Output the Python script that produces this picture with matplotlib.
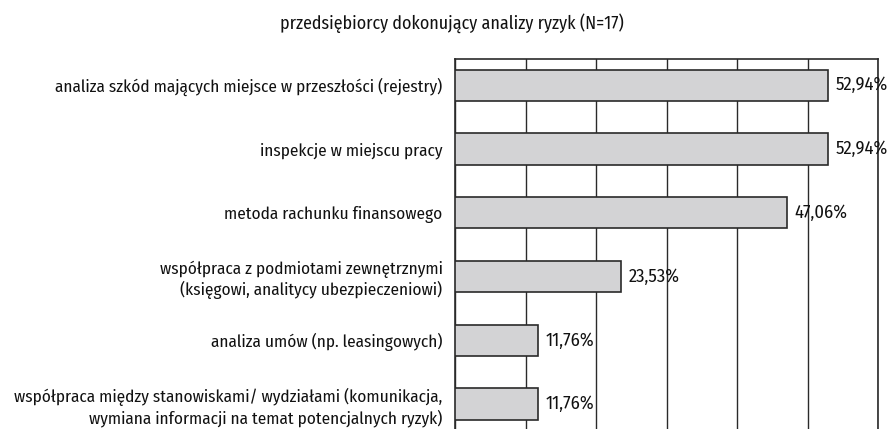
import matplotlib
matplotlib.use("Agg")
import matplotlib.pyplot as plt

categories = [
    "analiza szkód mających miejsce w przeszłości (rejestry)",
    "inspekcje w miejscu pracy",
    "metoda rachunku finansowego",
    "współpraca z podmiotami zewnętrznymi\n(księgowi, analitycy ubezpieczeniowi)",
    "analiza umów (np. leasingowych)",
    "współpraca między stanowiskami/ wydziałami (komunikacja,\nwymiana informacji na temat potencjalnych ryzyk)",
]
values = [52.94, 52.94, 47.06, 23.53, 11.76, 11.76]
labels = ["52,94%", "52,94%", "47,06%", "23,53%", "11,76%", "11,76%"]
title = "przedsiębiorcy dokonujący analizy ryzyk (N=17)"

plt.rcParams['font.family'] = ['Fira Sans Condensed', 'DejaVu Sans']

fig = plt.figure(figsize=(8.94, 4.29), dpi=100)
# axes: left 455px, right 878px, top 59px, bottom at image edge
ax = fig.add_axes([455/894, 0, (878-455)/894, (429-59)/429])

y = list(range(len(values)))
ax.barh(y, values, height=0.49, color='#d3d3d5', edgecolor='#2a2a2a', linewidth=1.2, zorder=3)
ax.set_xlim(0, 60)
ax.set_ylim(5.39, -0.41)
ax.set_xticks(range(0, 61, 10))
ax.grid(axis='x', color='#2a2a2a', linewidth=1.0, zorder=0)
ax.tick_params(axis='x', length=0, labelbottom=False)
ax.tick_params(axis='y', length=0, pad=9)
ax.set_yticks(y)
ax.set_yticklabels(categories, fontsize=12.4, color='#111111', linespacing=1.2)
for s in ['top', 'left', 'right']:
    ax.spines[s].set_color('#2a2a2a')
    ax.spines[s].set_linewidth(1.2)
ax.spines['bottom'].set_visible(False)

for yi, v, lab in zip(y, values, labels):
    ax.annotate(lab, (v, yi), xytext=(5.5, 0), textcoords='offset points',
                va='center', ha='left', fontsize=13.3, color='#111111', zorder=4)

fig.text(0.505, 1 - 23/429, title, ha='center', va='center', fontsize=12.9, color='#111111')

fig.savefig("out.png", dpi=100)
